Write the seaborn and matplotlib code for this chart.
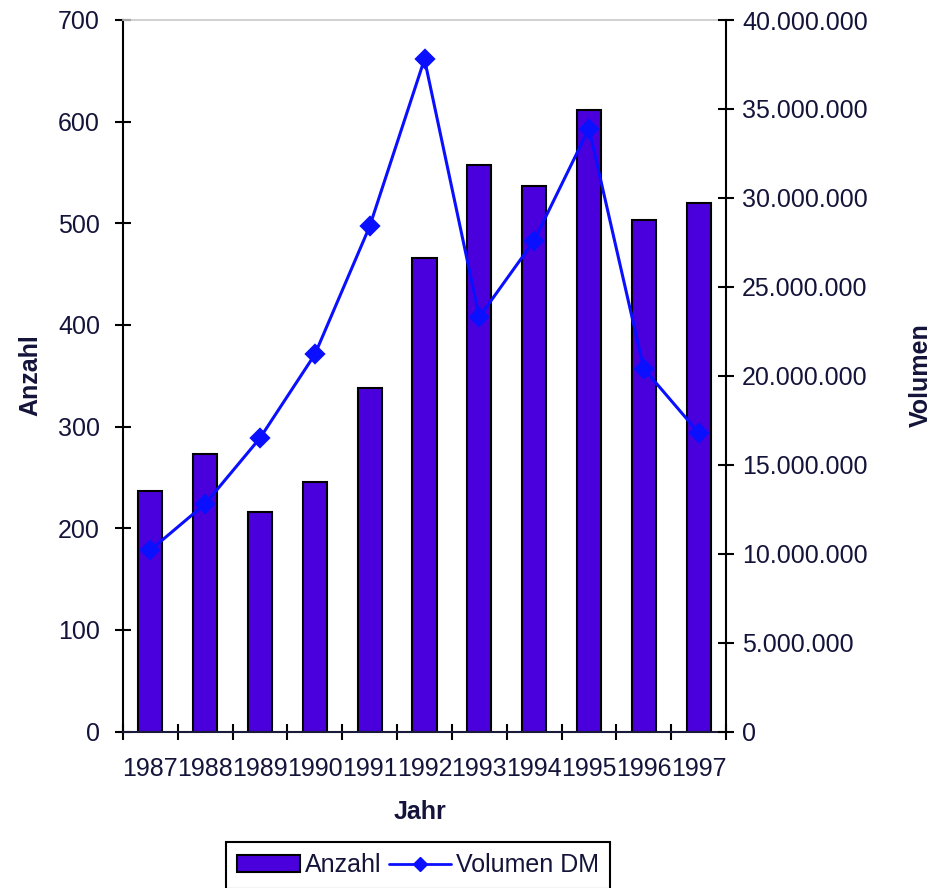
import numpy as np
import pandas as pd
import seaborn as sns
from matplotlib import pyplot as plt
from matplotlib.ticker import FuncFormatter, FixedLocator

# data
jahre = ["1987", "1988", "1989", "1990", "1991", "1992", "1993", "1994", "1995", "1996", "1997"]
anzahl = [237, 273, 216, 245, 338, 466, 557, 537, 611, 503, 520]
volumen = [10.2e6, 12.8e6, 16.5e6, 21.2e6, 28.4e6, 37.8e6, 23.3e6, 27.6e6, 33.9e6, 20.4e6, 16.8e6]

df = pd.DataFrame({"Jahr": jahre, "Anzahl": anzahl, "Volumen": volumen})

sns.set_style("white")
plt.rcParams["font.family"] = ["Liberation Sans", "DejaVu Sans"]
txt = "#14143a"
bar_col = "#4a00dc"
line_col = "#0a10ff"
fs = 18

fig = plt.figure(figsize=(9.35, 8.88), dpi=100)
ax = fig.add_axes([123/935, 1-731.5/888, (726-123)/935, (731.5-20)/888])

sns.barplot(data=df, x="Jahr", y="Anzahl", ax=ax, color=bar_col, width=0.44,
            edgecolor="black", linewidth=1.5, saturation=1)
ax.set_xlim(-0.5, 10.5)
ax.set_ylim(0, 700)
ax.set_yticks(range(0, 701, 100))
ax.set_xlabel("")
ax.set_ylabel("")

ax2 = ax.twinx()
sns.pointplot(data=df, x="Jahr", y="Volumen", ax=ax2, color=line_col, markers="D",
              markersize=9, linewidth=2.2)
ax2.set_xlim(-0.5, 10.5)
ax2.set_ylim(0, 40e6)
ax2.set_yticks(np.arange(0, 40e6 + 1, 5e6))
ax2.yaxis.set_major_formatter(FuncFormatter(lambda v, p: f"{int(v):,}".replace(",", ".")))
ax2.set_ylabel("")
ax2.set_xlabel("")

# spines
for a in (ax, ax2):
    for s in a.spines.values():
        s.set_visible(False)
ax.spines["left"].set_visible(True)
ax.spines["left"].set_color("black")
ax.spines["left"].set_linewidth(1.5)
ax.spines["bottom"].set_visible(True)
ax.spines["bottom"].set_color("#1a1a3a")
ax.spines["bottom"].set_linewidth(1.5)
ax.spines["top"].set_visible(True)
ax.spines["top"].set_color("#c8c8c8")
ax.spines["top"].set_linewidth(1.2)
ax2.spines["right"].set_visible(True)
ax2.spines["right"].set_color("black")
ax2.spines["right"].set_linewidth(1.5)

# ticks
ax.tick_params(axis="y", direction="inout", length=11, width=1.5, color="black",
               labelsize=fs, labelcolor=txt, pad=11, left=True)
ax2.tick_params(axis="y", direction="inout", length=11, width=1.5, color="black",
                labelsize=fs, labelcolor=txt, pad=6, right=True)
ax.xaxis.set_minor_locator(FixedLocator(np.arange(-0.5, 10.6, 1)))
ax.tick_params(axis="x", which="major", length=0, labelsize=fs, labelcolor=txt, pad=18)
ax.tick_params(axis="x", which="minor", direction="inout", length=12, width=1.5,
               color="black", bottom=True)

fig.text(30/935, 1-375/888, "Anzahl", rotation=90, ha="center", va="center",
         fontsize=fs, fontweight="bold", color=txt)
fig.text(921/935, 1-375/888, "Volumen", rotation=90, ha="center", va="center",
         fontsize=fs, fontweight="bold", color=txt)
fig.text(420/935, 1-812/888, "Jahr", ha="center", va="center",
         fontsize=fs, fontweight="bold", color=txt)

h1 = plt.Rectangle((0, 0), 1, 1, facecolor=bar_col, edgecolor="black", linewidth=1.5)
h2 = plt.Line2D([], [], color=line_col, marker="D", markersize=7, linewidth=2)
leg = fig.legend([h1, h2], ["Anzahl", "Volumen DM"], loc="upper center",
                 bbox_to_anchor=(418/935, 1-842/888), ncol=2, fontsize=fs,
                 frameon=True, fancybox=False, edgecolor="black", framealpha=1,
                 handlelength=2.5, handletextpad=0.2, columnspacing=0.3,
                 borderpad=0.45, borderaxespad=0, labelcolor=txt)
leg.get_frame().set_linewidth(1.5)

fig.savefig("out.png", dpi=100)
